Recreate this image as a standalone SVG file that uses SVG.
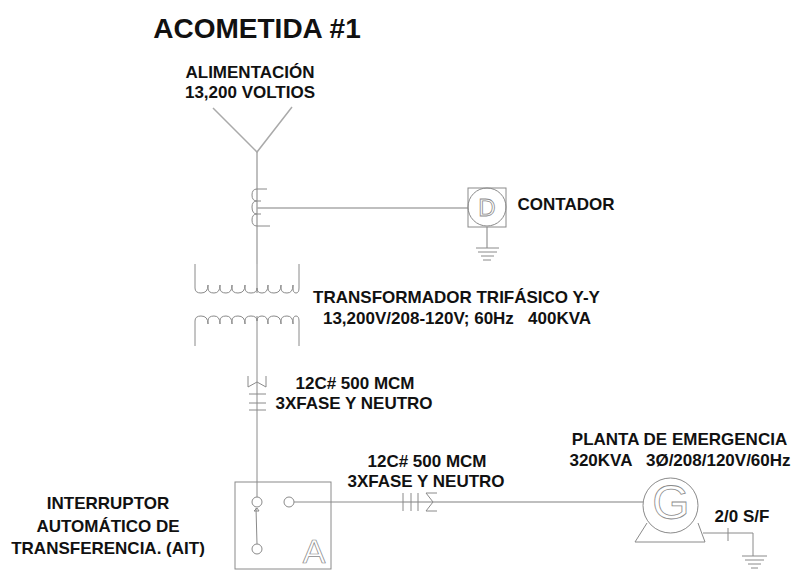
<svg xmlns="http://www.w3.org/2000/svg" width="796" height="572" viewBox="0 0 796 572">
<style>
.t{font-family:"Liberation Sans",Arial,sans-serif;font-weight:bold;font-size:17px;fill:#111;text-anchor:middle;white-space:pre}
.s{font-size:17px}
.l{fill:none;stroke:#8a8a8a;stroke-width:1}
.h{fill:none;stroke:#aaa;stroke-width:1.5}
.c{fill:#fff;stroke:#8a8a8a;stroke-width:1}
.o{font-family:"Liberation Sans",Arial,sans-serif;text-anchor:middle;fill:#fff;stroke:#8a8a8a;stroke-width:.8}
</style>
<rect width="796" height="572" fill="#fff"/>
<text class="t" x="257" y="38" style="font-size:28px">ACOMETIDA #1</text>
<g id="alimentacion"><text class="t" x="250" y="78">ALIMENTACIÓN</text><text class="t" x="250" y="98">13,200 VOLTIOS</text>
<path class="h" d="M213 108L257 152L292 107"/></g>
<g id="connectors">
<path class="h" d="M257 152V264"/>
<path class="l" d="M257 264V293M257 316V497"/>
<path class="h" d="M257 208H468"/>
<path class="h" d="M487 227V248"/>
<path class="l" d="M294 502H403"/>
<path class="h" d="M403 502H643"/>
</g>
<g id="ct"><path class="l" d="M267 189H257Q252 189 252 195Q252 201 257 201H261M257 201Q252 201 252 207Q252 214 257 214H261M257 214Q252 214 252 220Q252 226 257 226H270"/></g>
<g id="contador"><rect class="l" x="468" y="188" width="38" height="39"/><circle class="l" cx="487" cy="207" r="19"/>
<text class="o" x="487" y="216" style="font-size:24px">D</text>
<path class="l" d="M476 248H499M478 252H497M481 256H494M483 260H491"/>
<text class="t" x="566" y="210">CONTADOR</text></g>
<g id="transformador">
<path class="l" d="M195 264V288Q195 293 201 293Q208 293 208 285V288Q208 293 214 293Q220 293 220 285V288Q220 293 226 293Q232 293 232 285V288Q232 293 238 293Q245 293 245 285V288Q245 293 251 293Q257 293 257 288Q257 293 262 293Q268 293 268 285V288Q268 293 274 293Q281 293 281 285V288Q281 293 287 293Q293 293 293 285V288Q293 293 296 293Q299 293 299 288V264"/>
<path class="l" d="M195 346V321Q195 316 201 316Q208 316 208 324V321Q208 316 214 316Q220 316 220 324V321Q220 316 226 316Q232 316 232 324V321Q232 316 238 316Q245 316 245 324V321Q245 316 251 316Q257 316 257 321Q257 316 262 316Q268 316 268 324V321Q268 316 274 316Q281 316 281 324V321Q281 316 287 316Q293 316 293 324V321Q293 316 296 316Q299 316 299 321V346"/>
<text class="t" x="456.500" y="303">TRANSFORMADOR TRIFÁSICO Y-Y</text><text class="t" x="457" y="324">13,200V/208-120V; 60Hz   400KVA</text></g>
<g id="conductor1"><path class="l" d="M248 376V387L257 382L266 387V376M249 394H266M249 403H266M249 410H266"/>
<text class="t" x="355" y="389">12C# 500 MCM</text><text class="t" x="354" y="409">3XFASE Y NEUTRO</text></g>
<g id="ait"><rect class="l" x="235" y="482" width="96" height="87"/>
<circle class="c" cx="257" cy="502" r="5"/><circle class="c" cx="289" cy="502" r="5"/><circle class="c" cx="257" cy="549" r="5"/>
<path class="l" d="M256 508L257 544M254 511H259L257 508Z"/>
<text class="o" x="314" y="563" style="font-size:34px;stroke-width:.7">A</text>
<text class="t" x="108" y="509">INTERRUPTOR</text><text class="t" x="108" y="532">AUTOMÁTICO DE</text><text class="t" x="108" y="554">TRANSFERENCIA. (AIT)</text></g>
<g id="conductor2"><path class="l" d="M403 493V511M411 493V511M418 493V511M437 493H426L433 502L426 511H437"/>
<text class="t" x="427" y="467">12C# 500 MCM</text><text class="t" x="426" y="487">3XFASE Y NEUTRO</text></g>
<g id="planta"><circle class="c" cx="670.500" cy="505.500" r="27.500"/>
<text class="o" x="671" y="519" style="font-size:48px">G</text>
<path class="l" d="M647 523L635 542H705L698 523"/>
<path class="l" d="M703 533H753V556M728 528V541M742 556H767M745 560H764M748 564H761M751 568H758"/>
<text class="t" x="679.500" y="445">PLANTA DE EMERGENCIA</text><text class="t" x="680" y="466">320KVA   3Ø/208/120V/60Hz</text>
<text class="t" x="742" y="522">2/0 S/F</text></g>
</svg>
